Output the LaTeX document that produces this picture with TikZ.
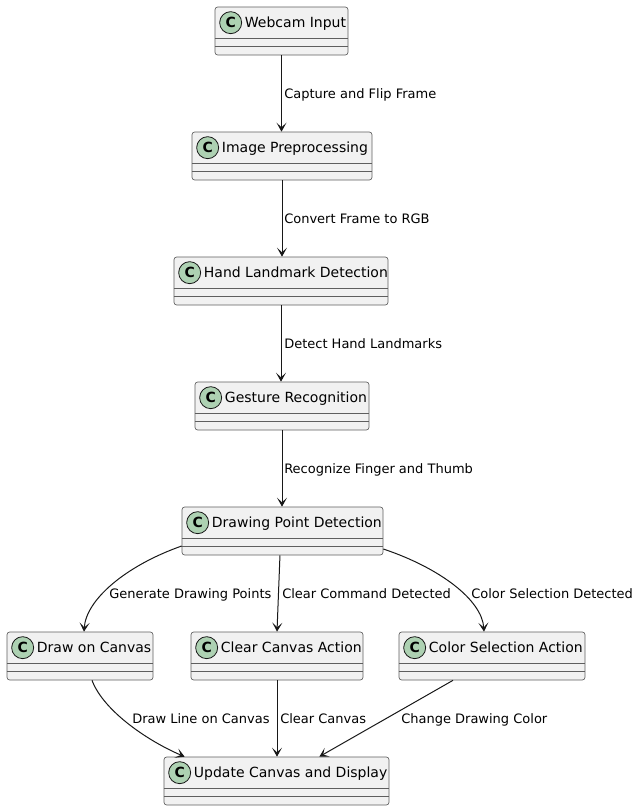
\documentclass[tikz,border=0pt]{standalone}
\usepackage{fontspec}
\setmainfont{DejaVu Sans}
\usetikzlibrary{arrows.meta,calc}
\definecolor{boxfill}{HTML}{F1F1F1}
\definecolor{boxline}{HTML}{181818}
\definecolor{boxedge}{HTML}{5E5E5E}
\definecolor{badge}{HTML}{ADD1B2}
\tikzset{
  cls/.style={draw=boxedge, fill=boxfill, line width=0.5pt, rounded corners=2pt, inner sep=0pt},
  sepline/.style={draw=boxedge, line width=0.5pt},
  cbadge/.style={circle, draw=boxline, fill=badge, line width=0.6pt, minimum size=16.5pt, inner sep=0pt, font=\fontsize{10.5pt}{12pt}\selectfont\bfseries},
  ctitle/.style={inner sep=0pt, anchor=base west, font=\fontsize{10.5pt}{12pt}\selectfont},
  elabel/.style={inner sep=0pt, anchor=base west, font=\fontsize{9.75pt}{11pt}\selectfont},
  arr/.style={draw=boxline, line width=0.75pt, -{Stealth[length=6.75pt,width=7.5pt,inset=3.5pt]}},
}
% #1 name, #2 left, #3 top, #4 right, #5 title
\newcommand{\umlbox}[5]{%
  \node[cls, minimum width={(#4-#2)*0.75pt}, minimum height=36pt] (#1) at ({(#2+#4)/2},{#3+24}) {};
  \draw[sepline] ($(#1.north west)+(0,32)$) -- ($(#1.north east)+(0,32)$);
  \draw[sepline] ($(#1.north west)+(0,40)$) -- ($(#1.north east)+(0,40)$);
  \node[cbadge] (#1-c) at ($(#1.north west)+(16,16)$) {C};
  \node[ctitle] (#1-t) at ($(#1.north west)+(30,20.5)$) {#5};
}
\begin{document}
\begin{tikzpicture}[x=0.75pt,y=-0.75pt]
\useasboundingbox (0,0) rectangle (636,811);

\umlbox{web}{215}{7}{348}{Webcam Input}
\umlbox{img}{192}{132}{372}{Image Preprocessing}
\umlbox{hand}{174}{257}{388}{Hand Landmark Detection}
\umlbox{ges}{195}{382}{369}{Gesture Recognition}
\umlbox{dpd}{182}{507}{383}{Drawing Point Detection}
\umlbox{doc}{7}{632}{153}{Draw on Canvas}
\umlbox{clr}{191}{632}{363}{Clear Canvas Action}
\umlbox{col}{399}{632}{585}{Color Selection Action}
\umlbox{upd}{164}{757}{389}{Update Canvas and Display}

% vertical chain
\draw[arr] (web.south) -- (web.south |- img.north);
\draw[arr] (img.south) -- (img.south |- hand.north);
\draw[arr] (hand.south) -- (hand.south |- ges.north);
\draw[arr] (ges.south) -- (ges.south |- dpd.north);

\node[elabel] (l1) at (284,98) {Capture and Flip Frame};
\node[elabel] (l2) at (284,223) {Convert Frame to RGB};
\node[elabel] (l3) at (284,348) {Detect Hand Landmarks};
\node[elabel] (l4) at (284,473) {Recognize Finger and Thumb};

% branches
\draw[arr] ([yshift=-11.25pt]dpd.west) .. controls (125,566) and (86,600) .. ([xshift=3pt]doc.north);
\draw[arr] ([xshift=-1.9pt]dpd.south) -- (clr.north);
\draw[arr] ([yshift=-13.5pt]dpd.east) .. controls (440,568) and (482,600) .. ([xshift=-6pt]col.north);

\node[elabel] (l5) at (109,598) {Generate Drawing Points};
\node[elabel] (l6) at (282,598) {Clear Command Detected};
\node[elabel] (l7) at (471,598) {Color Selection Detected};

% merges
\draw[arr] ([xshift=9pt]doc.south) .. controls (104,712) and (150,742) .. ([xshift=15.75pt]upd.north west);
\draw[arr] (clr.south) -- (clr.south |- upd.north);
\draw[arr] ([xshift=-29.25pt]col.south) -- ([xshift=-52.5pt]upd.north east);

\node[elabel] (l8) at (132,723) {Draw Line on Canvas};
\node[elabel] (l9) at (280,723) {Clear Canvas};
\node[elabel] (l10) at (401,723) {Change Drawing Color};
\end{tikzpicture}
\end{document}
